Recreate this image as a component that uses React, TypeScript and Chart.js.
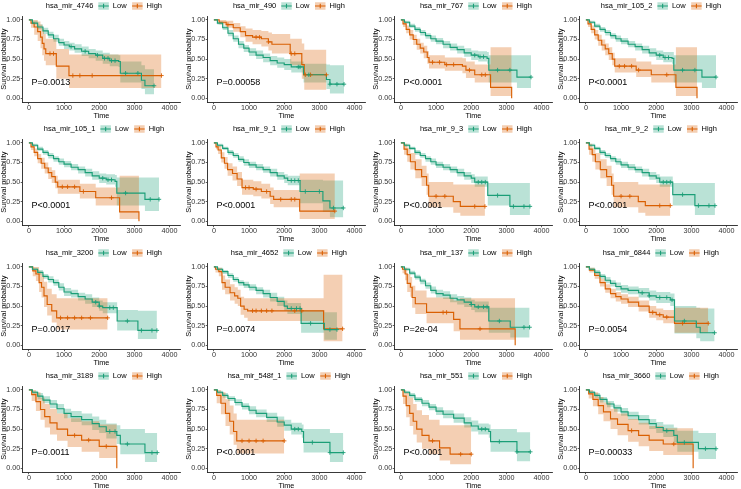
import React, { useEffect, useRef } from 'react';
import { Chart, registerables } from 'chart.js';

Chart.register(...registerables);

type Row = [number, number, number, number]; // time, survival, lower CI, upper CI

const FONT = '"Liberation Sans", Arial, Helvetica, sans-serif';
const LOW_COLOR = '#1B9E77';
const HIGH_COLOR = '#D95F02';
const LOW_FILL = 'rgba(27,158,119,0.3)';
const HIGH_FILL = 'rgba(217,95,2,0.3)';

const xTicks = [0, 1000, 2000, 3000, 4000];
const yTicks = [0, 0.25, 0.5, 0.75, 1];
const groupLabels = ['Low', 'High'];

const panelNames = [
  'hsa_mir_4746', 'hsa_mir_490', 'hsa_mir_767', 'hsa_mir_105_2',
  'hsa_mir_105_1', 'hsa_mir_9_1', 'hsa_mir_9_3', 'hsa_mir_9_2',
  'hsa_mir_3200', 'hsa_mir_4652', 'hsa_mir_137', 'hsa_mir_6844',
  'hsa_mir_3189', 'hsa_mir_548f_1', 'hsa_mir_551', 'hsa_mir_3660',
];
const pValues = [
  'P=0.0013', 'P=0.00058', 'P<0.0001', 'P<0.0001',
  'P<0.0001', 'P<0.0001', 'P<0.0001', 'P<0.0001',
  'P=0.0017', 'P=0.0074', 'P=2e-04', 'P=0.0054',
  'P=0.0011', 'P<0.0001', 'P<0.0001', 'P=0.00033',
];

// ---- hsa_mir_4746
const mir4746Low: Row[] = [[0,1,1,1],[100,0.96,0.94,0.99],[250,0.91,0.88,0.94],[400,0.86,0.82,0.90],[550,0.81,0.77,0.85],[700,0.76,0.72,0.81],[850,0.71,0.67,0.76],[1000,0.68,0.63,0.73],[1150,0.66,0.61,0.71],[1300,0.63,0.58,0.69],[1500,0.60,0.54,0.66],[1700,0.57,0.51,0.63],[1900,0.55,0.48,0.61],[2100,0.51,0.44,0.58],[2300,0.48,0.41,0.56],[2550,0.47,0.40,0.55],[2600,0.32,0.20,0.47],[3200,0.23,0.12,0.42],[3300,0.16,0.05,0.37],[3560,0.16,0.05,0.37]];
const mir4746High: Row[] = [[0,1,1,1],[60,0.96,0.90,1],[150,0.91,0.81,1],[250,0.85,0.73,0.98],[330,0.78,0.64,0.94],[380,0.70,0.55,0.88],[430,0.63,0.48,0.82],[480,0.57,0.42,0.76],[780,0.41,0.25,0.63],[1140,0.29,0.13,0.56],[3770,0.29,0.13,0.56]];
const mir4746LowCens = [1200, 1600, 1950, 2150, 2250, 2350, 2450, 2750, 3100, 3560];
const mir4746HighCens = [600, 700, 1250, 1450, 1800, 3770];

// ---- hsa_mir_490
const mir490Low: Row[] = [[0,1,1,1],[100,0.96,0.94,0.98],[250,0.90,0.87,0.93],[400,0.83,0.79,0.87],[550,0.76,0.72,0.80],[700,0.69,0.64,0.73],[850,0.64,0.59,0.68],[1000,0.59,0.54,0.64],[1200,0.55,0.50,0.61],[1400,0.52,0.46,0.57],[1600,0.48,0.42,0.54],[1800,0.45,0.39,0.52],[2000,0.43,0.36,0.50],[2200,0.40,0.33,0.47],[2550,0.30,0.20,0.44],[3200,0.24,0.12,0.43],[3300,0.18,0.06,0.42],[3700,0.18,0.06,0.42]];
const mir490High: Row[] = [[0,1,1,1],[150,0.97,0.94,1],[350,0.94,0.90,0.99],[550,0.90,0.85,0.96],[750,0.85,0.78,0.92],[900,0.80,0.72,0.89],[1100,0.78,0.69,0.87],[1350,0.76,0.66,0.86],[1550,0.72,0.61,0.84],[1650,0.69,0.57,0.82],[2170,0.57,0.42,0.76],[2500,0.43,0.25,0.70],[2570,0.30,0.11,0.62],[3200,0.30,0.11,0.62]];
const mir490LowCens = [2400, 2450, 2700, 3300, 3500, 3700];
const mir490HighCens = [400, 1200, 1300, 1550, 2200, 2300, 2600, 2750, 3200];

// ---- hsa_mir_767
const mir767Low: Row[] = [[0,1,1,1],[100,0.97,0.95,0.99],[250,0.92,0.90,0.95],[400,0.88,0.85,0.91],[550,0.84,0.80,0.87],[700,0.80,0.76,0.83],[850,0.76,0.72,0.80],[1000,0.73,0.69,0.77],[1200,0.69,0.64,0.73],[1400,0.65,0.61,0.70],[1600,0.62,0.57,0.67],[1800,0.58,0.53,0.64],[2000,0.55,0.49,0.61],[2200,0.53,0.47,0.60],[2450,0.51,0.44,0.59],[2500,0.36,0.20,0.55],[3300,0.27,0.13,0.55],[3700,0.27,0.13,0.55]];
const mir767High: Row[] = [[0,1,1,1],[60,0.95,0.91,0.99],[150,0.88,0.83,0.93],[250,0.81,0.75,0.87],[350,0.75,0.68,0.81],[450,0.69,0.62,0.76],[550,0.64,0.57,0.71],[650,0.59,0.51,0.67],[750,0.52,0.44,0.60],[800,0.46,0.38,0.55],[1250,0.43,0.35,0.52],[1750,0.41,0.32,0.51],[1850,0.36,0.26,0.47],[2100,0.30,0.20,0.43],[2550,0.14,0.03,0.65],[3150,0,0,0]];
const mir767LowCens = [2100, 2250, 2350, 2750, 3100, 3700];
const mir767HighCens = [900, 1100, 1300, 1500, 1950, 2300, 2400];

// ---- hsa_mir_105_2
const mir1052Low: Row[] = [[0,1,1,1],[100,0.97,0.95,0.99],[250,0.92,0.90,0.95],[400,0.88,0.85,0.91],[550,0.84,0.80,0.87],[700,0.80,0.76,0.83],[850,0.76,0.72,0.80],[1000,0.73,0.69,0.77],[1200,0.69,0.65,0.73],[1400,0.66,0.61,0.70],[1600,0.62,0.57,0.67],[1800,0.58,0.53,0.64],[2000,0.55,0.49,0.61],[2200,0.52,0.46,0.59],[2450,0.51,0.44,0.59],[2500,0.36,0.20,0.55],[3300,0.27,0.13,0.55],[3700,0.27,0.13,0.55]];
const mir1052High: Row[] = [[0,1,1,1],[60,0.95,0.91,0.99],[150,0.88,0.83,0.93],[250,0.81,0.75,0.87],[350,0.74,0.67,0.81],[450,0.68,0.61,0.75],[550,0.63,0.55,0.70],[650,0.57,0.49,0.65],[750,0.50,0.42,0.58],[820,0.41,0.33,0.51],[1430,0.36,0.27,0.47],[1860,0.30,0.20,0.43],[2560,0.14,0.03,0.65],[3160,0,0,0]];
const mir1052LowCens = [2100, 2250, 2350, 2750, 3100, 3700];
const mir1052HighCens = [950, 1100, 1300, 1500, 2300];

// ---- hsa_mir_105_1
const mir1051Low: Row[] = [[0,1,1,1],[100,0.97,0.95,0.99],[250,0.92,0.90,0.95],[400,0.88,0.85,0.91],[550,0.84,0.80,0.87],[700,0.80,0.76,0.83],[850,0.76,0.72,0.80],[1000,0.73,0.69,0.77],[1200,0.69,0.65,0.73],[1400,0.66,0.61,0.70],[1600,0.62,0.57,0.67],[1800,0.58,0.53,0.64],[2000,0.55,0.49,0.61],[2200,0.53,0.47,0.60],[2450,0.51,0.44,0.59],[2500,0.36,0.20,0.56],[3300,0.28,0.13,0.56],[3700,0.28,0.13,0.56]];
const mir1051High: Row[] = [[0,1,1,1],[60,0.95,0.91,0.99],[150,0.88,0.83,0.93],[250,0.80,0.74,0.86],[350,0.74,0.67,0.81],[450,0.68,0.61,0.75],[550,0.62,0.54,0.69],[650,0.57,0.49,0.65],[750,0.50,0.42,0.58],[820,0.44,0.35,0.53],[1450,0.38,0.29,0.48],[1900,0.30,0.20,0.43],[2580,0.12,0.03,0.58],[3130,0,0,0]];
const mir1051LowCens = [2100, 2250, 2350, 2750, 3450, 3700];
const mir1051HighCens = [950, 1100, 1300, 1550, 2350];

// ---- hsa_mir_9_1
const mir91Low: Row[] = [[0,1,1,1],[100,0.97,0.95,0.99],[250,0.93,0.91,0.95],[400,0.88,0.85,0.91],[550,0.84,0.81,0.87],[700,0.79,0.76,0.83],[850,0.75,0.71,0.79],[1000,0.72,0.68,0.76],[1200,0.69,0.65,0.73],[1400,0.66,0.62,0.70],[1600,0.62,0.57,0.67],[1800,0.58,0.53,0.63],[2000,0.55,0.49,0.60],[2100,0.52,0.46,0.58],[2450,0.38,0.23,0.53],[3100,0.26,0.12,0.52],[3300,0.17,0.05,0.52],[3680,0.17,0.05,0.52]];
const mir91High: Row[] = [[0,1,1,1],[60,0.95,0.92,0.99],[120,0.91,0.86,0.96],[210,0.81,0.75,0.88],[300,0.74,0.67,0.82],[390,0.66,0.58,0.74],[530,0.61,0.52,0.70],[660,0.54,0.45,0.63],[800,0.43,0.34,0.53],[1120,0.41,0.32,0.51],[1350,0.38,0.29,0.48],[1600,0.32,0.22,0.43],[1700,0.28,0.18,0.40],[2440,0.13,0.03,0.61],[3440,0.13,0.03,0.61]];
const mir91LowCens = [2200, 2300, 2400, 2600, 3000, 3400, 3680];
const mir91HighCens = [900, 1000, 1200, 1500, 1900, 2200, 2300, 3440];

// ---- hsa_mir_9_3
const mir93Low: Row[] = [[0,1,1,1],[100,0.97,0.95,0.99],[250,0.93,0.91,0.95],[400,0.88,0.85,0.91],[550,0.84,0.81,0.87],[700,0.80,0.76,0.83],[850,0.76,0.72,0.80],[1000,0.72,0.68,0.76],[1200,0.69,0.65,0.73],[1400,0.66,0.62,0.70],[1600,0.62,0.57,0.67],[1800,0.58,0.53,0.63],[2000,0.55,0.49,0.60],[2100,0.50,0.44,0.57],[2470,0.33,0.20,0.49],[3100,0.19,0.08,0.49],[3670,0.19,0.08,0.49]];
const mir93High: Row[] = [[0,1,1,1],[90,0.92,0.85,0.99],[180,0.85,0.76,0.94],[270,0.76,0.66,0.87],[410,0.66,0.55,0.79],[590,0.57,0.45,0.71],[730,0.46,0.34,0.61],[790,0.32,0.18,0.50],[1490,0.25,0.11,0.47],[1690,0.19,0.07,0.47],[2390,0.19,0.07,0.47]];
const mir93LowCens = [2200, 2300, 2400, 2750, 3200, 3500, 3670];
const mir93HighCens = [1000, 1250, 2100, 2390];

// ---- hsa_mir_9_2
const mir92Low: Row[] = [[0,1,1,1],[100,0.97,0.95,0.99],[250,0.93,0.91,0.95],[400,0.88,0.85,0.91],[550,0.84,0.81,0.87],[700,0.80,0.76,0.83],[850,0.76,0.72,0.80],[1000,0.72,0.68,0.76],[1200,0.69,0.65,0.73],[1400,0.66,0.62,0.70],[1600,0.62,0.57,0.67],[1800,0.58,0.53,0.63],[2000,0.55,0.49,0.60],[2100,0.50,0.44,0.57],[2470,0.34,0.20,0.49],[3100,0.20,0.08,0.49],[3670,0.20,0.08,0.49]];
const mir92High: Row[] = [[0,1,1,1],[90,0.92,0.85,0.99],[180,0.85,0.76,0.94],[270,0.76,0.66,0.87],[410,0.66,0.55,0.79],[590,0.57,0.45,0.71],[730,0.46,0.34,0.61],[790,0.32,0.18,0.50],[1490,0.25,0.11,0.47],[1690,0.20,0.07,0.47],[2400,0.20,0.07,0.47]];
const mir92LowCens = [2200, 2300, 2400, 2750, 3200, 3500, 3670];
const mir92HighCens = [1000, 1250, 2100, 2400];

// ---- hsa_mir_3200
const mir3200Low: Row[] = [[0,1,1,1],[100,0.97,0.95,0.99],[250,0.93,0.90,0.96],[400,0.88,0.85,0.91],[550,0.84,0.80,0.88],[700,0.80,0.76,0.84],[850,0.74,0.70,0.79],[1000,0.68,0.63,0.73],[1200,0.66,0.61,0.71],[1400,0.62,0.57,0.67],[1600,0.59,0.53,0.65],[1800,0.55,0.49,0.61],[2000,0.50,0.44,0.57],[2100,0.48,0.41,0.55],[2510,0.31,0.19,0.45],[3100,0.19,0.08,0.44],[3640,0.19,0.08,0.44]];
const mir3200High: Row[] = [[0,1,1,1],[110,0.95,0.88,1],[200,0.91,0.82,1],[290,0.80,0.68,0.94],[360,0.74,0.61,0.90],[430,0.63,0.49,0.81],[520,0.52,0.38,0.72],[650,0.44,0.29,0.65],[790,0.35,0.20,0.60],[2240,0.35,0.20,0.60]];
const mir3200LowCens = [1900, 2000, 2300, 2400, 2800, 3200, 3500, 3640];
const mir3200HighCens = [900, 1100, 1300, 1500, 1750, 2240];

// ---- hsa_mir_4652
const mir4652Low: Row[] = [[0,1,1,1],[100,0.97,0.95,0.99],[250,0.94,0.91,0.96],[400,0.89,0.86,0.92],[550,0.84,0.81,0.87],[700,0.80,0.76,0.83],[850,0.77,0.73,0.81],[1000,0.74,0.70,0.78],[1200,0.70,0.65,0.74],[1400,0.66,0.61,0.71],[1600,0.61,0.56,0.67],[1800,0.56,0.50,0.62],[2000,0.50,0.44,0.57],[2090,0.47,0.40,0.54],[2480,0.28,0.16,0.45],[3140,0.20,0.07,0.42],[3500,0.20,0.07,0.42]];
const mir4652High: Row[] = [[0,1,1,1],[45,0.97,0.93,1],[140,0.94,0.88,0.99],[230,0.80,0.71,0.89],[320,0.74,0.65,0.84],[460,0.67,0.57,0.78],[590,0.63,0.53,0.74],[680,0.60,0.50,0.71],[760,0.50,0.39,0.62],[860,0.46,0.35,0.60],[960,0.44,0.31,0.60],[3120,0.21,0.05,0.90],[3660,0.21,0.05,0.90]];
const mir4652LowCens = [2200, 2350, 2450, 2750, 3300, 3500];
const mir4652HighCens = [1100, 1200, 1350, 1500, 1650, 2300, 2500, 3660];

// ---- hsa_mir_137
const mir137Low: Row[] = [[0,1,1,1],[100,0.97,0.95,0.99],[250,0.92,0.90,0.95],[400,0.87,0.84,0.90],[550,0.82,0.78,0.85],[700,0.76,0.72,0.80],[850,0.70,0.66,0.75],[1000,0.66,0.61,0.71],[1200,0.64,0.59,0.69],[1400,0.60,0.55,0.65],[1600,0.58,0.52,0.63],[1800,0.55,0.49,0.61],[2000,0.52,0.45,0.58],[2100,0.49,0.42,0.56],[2500,0.31,0.16,0.48],[3110,0.23,0.10,0.48],[3660,0.23,0.10,0.48]];
const mir137High: Row[] = [[0,1,1,1],[45,0.97,0.92,1],[120,0.91,0.83,0.99],[180,0.79,0.68,0.91],[270,0.74,0.62,0.87],[320,0.61,0.48,0.76],[410,0.53,0.40,0.70],[730,0.42,0.28,0.61],[1500,0.33,0.18,0.57],[1680,0.21,0.07,0.60],[3250,0,0,0]];
const mir137LowCens = [2000, 2200, 2350, 2450, 2800, 3500, 3660];
const mir137HighCens = [1200, 1300, 2250];

// ---- hsa_mir_6844
const mir6844Low: Row[] = [[0,1,1,1],[100,0.97,0.95,0.99],[250,0.93,0.90,0.96],[400,0.88,0.85,0.91],[550,0.83,0.79,0.87],[700,0.79,0.75,0.83],[850,0.75,0.70,0.80],[1000,0.72,0.67,0.77],[1200,0.70,0.65,0.75],[1500,0.67,0.61,0.73],[1800,0.63,0.57,0.70],[2000,0.61,0.54,0.68],[2400,0.58,0.50,0.66],[2520,0.31,0.15,0.50],[3140,0.23,0.09,0.48],[3250,0.16,0.05,0.47],[3660,0.16,0.05,0.47]];
const mir6844High: Row[] = [[0,1,1,1],[100,0.96,0.93,0.99],[250,0.89,0.85,0.93],[400,0.80,0.75,0.85],[550,0.72,0.67,0.78],[700,0.66,0.60,0.72],[850,0.62,0.56,0.68],[1000,0.59,0.53,0.65],[1200,0.55,0.49,0.62],[1500,0.50,0.43,0.57],[1800,0.42,0.35,0.50],[2000,0.39,0.32,0.47],[2200,0.36,0.28,0.45],[2520,0.28,0.16,0.48],[3480,0.28,0.16,0.48]];
const mir6844LowCens = [1600, 1800, 2100, 2300, 2450, 2800, 3660];
const mir6844HighCens = [1900, 2100, 2300, 2750, 3480];

// ---- hsa_mir_3189
const mir3189Low: Row[] = [[0,1,1,1],[100,0.97,0.94,0.99],[250,0.92,0.88,0.96],[400,0.87,0.83,0.92],[600,0.82,0.77,0.87],[800,0.76,0.70,0.82],[1000,0.70,0.64,0.76],[1200,0.66,0.59,0.73],[1500,0.62,0.55,0.70],[1800,0.57,0.49,0.66],[2000,0.53,0.45,0.62],[2200,0.47,0.38,0.57],[2500,0.42,0.31,0.55],[2600,0.31,0.18,0.50],[3300,0.20,0.08,0.45],[3650,0.20,0.08,0.45]];
const mir3189High: Row[] = [[0,1,1,1],[80,0.94,0.86,1],[200,0.85,0.73,0.97],[330,0.75,0.62,0.90],[450,0.66,0.52,0.82],[600,0.58,0.43,0.76],[800,0.50,0.35,0.70],[1100,0.42,0.27,0.64],[1500,0.36,0.21,0.60],[2000,0.28,0.13,0.56],[2500,0,0,0]];
const mir3189LowCens = [2300, 2450, 2800, 3500, 3650];
const mir3189HighCens = [1300, 1700, 2200];

// ---- hsa_mir_548f_1
const mir548Low: Row[] = [[0,1,1,1],[100,0.97,0.95,0.99],[250,0.93,0.90,0.96],[400,0.89,0.86,0.92],[600,0.84,0.80,0.88],[800,0.79,0.75,0.83],[1000,0.74,0.69,0.79],[1200,0.70,0.65,0.75],[1500,0.65,0.59,0.71],[1800,0.59,0.53,0.66],[2000,0.55,0.48,0.62],[2200,0.50,0.43,0.58],[2500,0.47,0.39,0.56],[2550,0.33,0.20,0.50],[3300,0.20,0.08,0.45],[3680,0.20,0.08,0.45]];
const mir548High: Row[] = [[0,1,1,1],[80,0.93,0.83,1],[200,0.83,0.69,0.97],[330,0.70,0.54,0.88],[450,0.60,0.43,0.80],[560,0.47,0.30,0.70],[650,0.35,0.19,0.62],[2000,0.35,0.19,0.62]];
const mir548LowCens = [2300, 2400, 2800, 3300, 3680];
const mir548HighCens = [800, 1000, 1200, 1400, 2000];

// ---- hsa_mir_551
const mir551Low: Row[] = [[0,1,1,1],[100,0.97,0.95,0.99],[250,0.93,0.90,0.96],[400,0.88,0.85,0.91],[600,0.83,0.79,0.87],[800,0.78,0.74,0.82],[1000,0.73,0.68,0.78],[1200,0.69,0.64,0.74],[1500,0.64,0.58,0.70],[1800,0.58,0.52,0.65],[2000,0.54,0.47,0.61],[2200,0.50,0.43,0.57],[2500,0.47,0.39,0.56],[2550,0.34,0.21,0.50],[3300,0.21,0.09,0.46],[3680,0.21,0.09,0.46]];
const mir551High: Row[] = [[0,1,1,1],[60,0.92,0.82,1],[150,0.80,0.65,0.96],[250,0.70,0.54,0.90],[350,0.60,0.43,0.82],[450,0.50,0.33,0.74],[600,0.42,0.25,0.68],[800,0.35,0.18,0.62],[1100,0.26,0.10,0.55],[1400,0.18,0.05,0.55],[2000,0.18,0.05,0.55]];
const mir551LowCens = [2300, 2400, 2800, 3300, 3680];
const mir551HighCens = [900, 1700, 2000];

// ---- hsa_mir_3660
const mir3660Low: Row[] = [[0,1,1,1],[100,0.97,0.95,0.99],[250,0.93,0.90,0.96],[400,0.88,0.84,0.91],[600,0.82,0.78,0.86],[800,0.77,0.72,0.81],[1000,0.72,0.67,0.77],[1200,0.67,0.62,0.72],[1500,0.62,0.56,0.68],[1800,0.57,0.50,0.63],[2000,0.52,0.45,0.59],[2200,0.48,0.40,0.56],[2500,0.42,0.33,0.52],[2600,0.33,0.21,0.48],[3200,0.25,0.12,0.45],[3700,0.25,0.12,0.45]];
const mir3660High: Row[] = [[0,1,1,1],[80,0.95,0.89,1],[200,0.88,0.79,0.97],[350,0.80,0.69,0.91],[500,0.72,0.60,0.84],[700,0.63,0.50,0.76],[900,0.56,0.42,0.70],[1200,0.48,0.34,0.63],[1500,0.42,0.28,0.58],[1800,0.36,0.22,0.54],[2200,0.31,0.17,0.51],[3050,0,0,0]];
const mir3660LowCens = [2300, 2800, 3400, 3700];
const mir3660HighCens = [1300, 2500];

const lowCurves = [mir4746Low, mir490Low, mir767Low, mir1052Low, mir1051Low, mir91Low, mir93Low, mir92Low, mir3200Low, mir4652Low, mir137Low, mir6844Low, mir3189Low, mir548Low, mir551Low, mir3660Low];
const highCurves = [mir4746High, mir490High, mir767High, mir1052High, mir1051High, mir91High, mir93High, mir92High, mir3200High, mir4652High, mir137High, mir6844High, mir3189High, mir548High, mir551High, mir3660High];
const lowCensors = [mir4746LowCens, mir490LowCens, mir767LowCens, mir1052LowCens, mir1051LowCens, mir91LowCens, mir93LowCens, mir92LowCens, mir3200LowCens, mir4652LowCens, mir137LowCens, mir6844LowCens, mir3189LowCens, mir548LowCens, mir551LowCens, mir3660LowCens];
const highCensors = [mir4746HighCens, mir490HighCens, mir767HighCens, mir1052HighCens, mir1051HighCens, mir91HighCens, mir93HighCens, mir92HighCens, mir3200HighCens, mir4652HighCens, mir137HighCens, mir6844HighCens, mir3189HighCens, mir548HighCens, mir551HighCens, mir3660HighCens];

// layout
const CANVAS_W = 185;
const CANVAS_H = 120;
const colLefts = [0, 185, 372, 557];
const rowTops = [0, 123, 247, 370];

function survAt(rows: Row[], t: number): number {
  let s = 1;
  for (const r of rows) {
    if (r[0] <= t) s = r[1];
    else break;
  }
  return s;
}

const kmPlugin = {
  id: 'kmDecor',
  afterDraw(chart: any, _args: any, opts: any) {
    const ctx: CanvasRenderingContext2D = chart.ctx;
    const area = chart.chartArea;
    ctx.save();
    // p-value
    const xs = chart.scales.x;
    const ys = chart.scales.y;
    ctx.font = `9px ${FONT}`;
    ctx.fillStyle = '#000';
    ctx.textAlign = 'left';
    ctx.textBaseline = 'middle';
    ctx.fillText(opts.pval, xs.getPixelForValue(0) + 2.5, ys.getPixelForValue(0.2));

    // legend
    ctx.font = `7.5px ${FONT}`;
    const keyW = 10.5;
    const keyH = 7.5;
    const wTitle = ctx.measureText(opts.name).width;
    const wLow = ctx.measureText(groupLabels[0]).width;
    const wHigh = ctx.measureText(groupLabels[1]).width;
    const total = wTitle + 5 + keyW + 4 + wLow + 5.5 + keyW + 4 + wHigh;
    const cx = (area.left + area.right) / 2 + 2.5;
    const y = 6;
    let x = cx - total / 2;
    ctx.fillStyle = '#000';
    ctx.fillText(opts.name, x, y);
    x += wTitle + 5;
    const keys = [
      { color: LOW_COLOR, fill: LOW_FILL, label: groupLabels[0], w: wLow },
      { color: HIGH_COLOR, fill: HIGH_FILL, label: groupLabels[1], w: wHigh },
    ];
    keys.forEach((k, i) => {
      ctx.fillStyle = k.fill;
      ctx.fillRect(x, y - keyH / 2, keyW, keyH);
      ctx.strokeStyle = k.color;
      ctx.lineWidth = 1.1;
      ctx.beginPath();
      ctx.moveTo(x, y);
      ctx.lineTo(x + keyW, y);
      ctx.moveTo(x + keyW / 2, y - 2.2);
      ctx.lineTo(x + keyW / 2, y + 2.2);
      ctx.stroke();
      x += keyW + 4;
      ctx.fillStyle = '#000';
      ctx.fillText(k.label, x, y);
      x += k.w + (i === 0 ? 5.5 : 0);
    });
    ctx.restore();
  },
};

function Panel({ idx }: { idx: number }) {
  const ref = useRef<HTMLCanvasElement | null>(null);
  useEffect(() => {
    const canvas = ref.current;
    if (!canvas) return;
    const groups = [
      { rows: lowCurves[idx], cens: lowCensors[idx], color: LOW_COLOR, fill: LOW_FILL, bandOrder: 4 },
      { rows: highCurves[idx], cens: highCensors[idx], color: HIGH_COLOR, fill: HIGH_FILL, bandOrder: 3 },
    ];
    const datasets: any[] = [];
    groups.forEach((g, gi) => {
      datasets.push({
        label: groupLabels[gi] + ' upper',
        data: g.rows.map((r) => ({ x: r[0], y: r[3] })),
        stepped: 'before',
        borderWidth: 0,
        borderColor: 'rgba(0,0,0,0)',
        pointRadius: 0,
        backgroundColor: g.fill,
        fill: '+1',
        order: g.bandOrder,
      });
      datasets.push({
        label: groupLabels[gi] + ' lower',
        data: g.rows.map((r) => ({ x: r[0], y: r[2] })),
        stepped: 'before',
        borderWidth: 0,
        borderColor: 'rgba(0,0,0,0)',
        pointRadius: 0,
        fill: false,
        order: g.bandOrder,
      });
    });
    groups.forEach((g, gi) => {
      datasets.push({
        label: groupLabels[gi],
        data: g.rows.map((r) => ({ x: r[0], y: r[1] })),
        stepped: 'before',
        borderColor: g.color,
        borderWidth: 1.15,
        pointRadius: 0,
        fill: false,
        order: 1,
      });
      datasets.push({
        label: groupLabels[gi] + ' censored',
        data: g.cens.map((t) => ({ x: t, y: survAt(g.rows, t) })),
        showLine: false,
        pointStyle: 'cross',
        pointRadius: 2.2,
        borderColor: g.color,
        backgroundColor: g.color,
        borderWidth: 0.9,
        fill: false,
        order: 0,
      });
    });

    const tickFont = { family: FONT, size: 7.2 };
    const titleFont = { family: FONT, size: 7.3 };
    const chart = new Chart(canvas, {
      type: 'line',
      data: { datasets },
      options: {
        animation: false,
        responsive: false,
        maintainAspectRatio: false,
        events: [],
        devicePixelRatio: 1,
        layout: { padding: { top: 16, left: 0, right: 2, bottom: 0 } },
        plugins: {
          legend: { display: false },
          tooltip: { enabled: false },
          kmDecor: { name: panelNames[idx], pval: pValues[idx] },
        } as any,
        scales: {
          x: {
            type: 'linear',
            min: -176,
            max: 4300,
            afterBuildTicks: (s: any) => {
              s.ticks = xTicks.map((v) => ({ value: v }));
            },
            afterFit: (s: any) => {
              s.height = CANVAS_H - 102.2;
            },
            ticks: {
              font: tickFont,
              color: '#333',
              padding: 0,
              maxRotation: 0,
              autoSkip: false,
              callback: (v: any) => String(v),
            },
            grid: { display: true, drawOnChartArea: false, drawTicks: true, tickLength: 2, color: '#333', lineWidth: 0.8 },
            border: { display: true, color: '#222', width: 0.9 },
            title: { display: true, text: 'Time', font: titleFont, color: '#000', padding: 0 },
          },
          y: {
            type: 'linear',
            min: -0.05,
            max: 1.05,
            afterBuildTicks: (s: any) => {
              s.ticks = yTicks.map((v) => ({ value: v }));
            },
            afterFit: (s: any) => {
              s.width = 22.7;
            },
            ticks: {
              font: tickFont,
              color: '#333',
              padding: 0.5,
              autoSkip: false,
              callback: (v: any) => Number(v).toFixed(2),
            },
            grid: { display: true, drawOnChartArea: false, drawTicks: true, tickLength: 2, color: '#333', lineWidth: 0.8 },
            border: { display: true, color: '#222', width: 0.9 },
            title: { display: true, text: 'Survival probability', font: titleFont, color: '#000', padding: 0 },
          },
        },
      } as any,
      plugins: [kmPlugin as any],
    });
    return () => chart.destroy();
  }, [idx]);

  const col = idx % 4;
  const row = Math.floor(idx / 4);
  return (
    <canvas
      ref={ref}
      width={CANVAS_W}
      height={CANVAS_H}
      style={{ position: 'absolute', left: colLefts[col], top: rowTops[row], width: CANVAS_W, height: CANVAS_H }}
    />
  );
}

export default function App() {
  return (
    <div
      style={{
        position: 'fixed',
        left: 0,
        top: 0,
        width: 741,
        height: 489,
        overflow: 'hidden',
        background: '#fff',
      }}
    >
      {panelNames.map((_, i) => (
        <Panel key={i} idx={i} />
      ))}
    </div>
  );
}
